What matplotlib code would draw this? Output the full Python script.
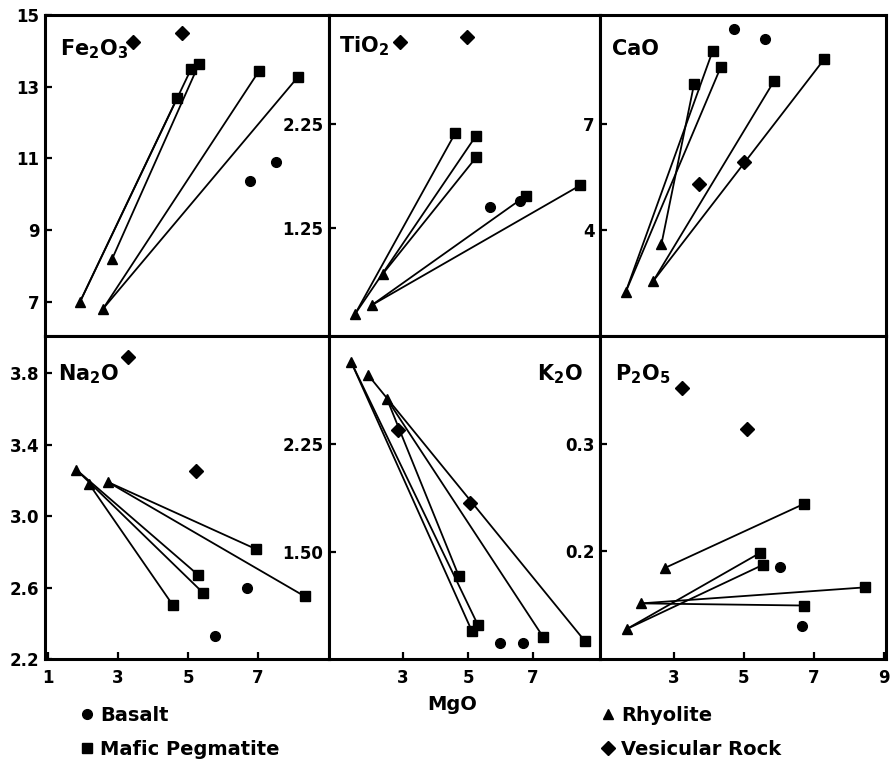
import matplotlib
matplotlib.use("Agg")
import matplotlib.pyplot as plt
from matplotlib.lines import Line2D

plt.rcParams["font.family"] = ["DejaVu Sans"]
plt.rcParams["mathtext.fontset"] = "custom"
plt.rcParams["mathtext.rm"] = "DejaVu Sans:bold"
plt.rcParams["mathtext.default"] = "rm"

# --------- DATA (MgO on x, oxide on y) ---------
# each oxide: basalt / rhyolite / pegmatite / vesicular points,
# ties = (rhyolite index, pegmatite index) pairs joined by a line

FE2O3_BASALT = [(6.77, 10.38), (7.51, 10.90)]
FE2O3_RHYOLITE = [(1.91, 7.00), (2.83, 8.20), (2.57, 6.81)]
FE2O3_PEGMATITE = [(4.69, 12.69), (5.09, 13.50), (5.31, 13.63), (7.03, 13.44), (8.14, 13.27)]
FE2O3_VESICULAR = [(3.43, 14.25), (4.83, 14.50)]
FE2O3_TIES = [(0, 0), (0, 1), (1, 2), (2, 3), (2, 4)]

TIO2_BASALT = [(5.68, 1.45), (6.60, 1.51)]
TIO2_RHYOLITE = [(1.52, 0.42), (2.05, 0.51), (2.38, 0.81)]
TIO2_PEGMATITE = [(4.60, 2.16), (5.25, 2.14), (5.25, 1.93), (6.78, 1.56), (8.45, 1.66)]
TIO2_VESICULAR = [(2.91, 3.04), (4.97, 3.09)]
TIO2_TIES = [(0, 0), (0, 1), (2, 2), (1, 3), (1, 4)]

CAO_BASALT = [(4.72, 9.69), (5.60, 9.40)]
CAO_RHYOLITE = [(1.63, 2.24), (2.42, 2.56), (2.65, 3.60)]
CAO_PEGMATITE = [(4.11, 9.07), (4.34, 8.61), (3.58, 8.13), (5.86, 8.22), (7.29, 8.84)]
CAO_VESICULAR = [(3.73, 5.30), (5.01, 5.92)]
CAO_TIES = [(0, 0), (0, 1), (2, 2), (1, 3), (1, 4)]

NA2O_BASALT = [(6.69, 2.60), (5.77, 2.33)]
NA2O_RHYOLITE = [(1.80, 3.26), (2.17, 3.18), (2.71, 3.19)]
NA2O_PEGMATITE = [(4.57, 2.50), (5.29, 2.67), (5.43, 2.57), (6.94, 2.815), (8.34, 2.55)]
NA2O_VESICULAR = [(3.29, 3.89), (5.23, 3.25)]
NA2O_TIES = [(1, 0), (0, 1), (0, 2), (2, 3), (2, 4)]

K2O_BASALT = [(5.98, 0.87), (6.69, 0.87)]
K2O_RHYOLITE = [(1.40, 2.82), (1.92, 2.73), (2.51, 2.56)]
K2O_PEGMATITE = [(4.72, 1.33), (5.12, 0.95), (5.31, 0.99), (7.31, 0.91), (8.60, 0.88)]
K2O_VESICULAR = [(2.85, 2.35), (5.06, 1.84)]
K2O_TIES = [(2, 0), (0, 1), (0, 2), (2, 3), (1, 4)]

P2O5_BASALT = [(6.04, 0.185), (6.65, 0.130)]
P2O5_RHYOLITE = [(1.66, 0.127), (2.07, 0.151), (2.74, 0.184)]
P2O5_PEGMATITE = [(5.45, 0.198), (5.54, 0.187), (6.71, 0.244), (6.71, 0.149), (8.46, 0.166)]
P2O5_VESICULAR = [(3.23, 0.352), (5.10, 0.314)]
P2O5_TIES = [(0, 0), (0, 1), (2, 2), (1, 3), (1, 4)]

# --------- LAYOUT (pixels of the 893x767 canvas) ---------
W, H = 893, 767
COL_EDGES = [45, 329, 600, 886]
ROW_EDGES = [15, 336, 659]
XLIMS = [(0.91, 9.03), (0.72, 9.06), (0.90, 9.05)]

PANELS = [
    # (row, col, label, basalt, rhyolite, pegmatite, vesicular, ties, ylim, yticks, yticklabels, label pos)
    (0, 0, "Fe$_2$O$_3$", FE2O3_BASALT, FE2O3_RHYOLITE, FE2O3_PEGMATITE, FE2O3_VESICULAR, FE2O3_TIES,
     (6.05, 15.0), [7, 9, 11, 13, 15], ["7", "9", "11", "13", "15"], (0.053, 0.875, "left")),
    (0, 1, "TiO$_2$", TIO2_BASALT, TIO2_RHYOLITE, TIO2_PEGMATITE, TIO2_VESICULAR, TIO2_TIES,
     (0.21, 3.30), [1.25, 2.25], ["1.25", "2.25"], (0.037, 0.882, "left")),
    (0, 2, "CaO", CAO_BASALT, CAO_RHYOLITE, CAO_PEGMATITE, CAO_VESICULAR, CAO_TIES,
     (1.0, 10.09), [4, 7], ["4", "7"], (0.042, 0.875, "left")),
    (1, 0, "Na$_2$O", NA2O_BASALT, NA2O_RHYOLITE, NA2O_PEGMATITE, NA2O_VESICULAR, NA2O_TIES,
     (2.2, 4.007), [2.2, 2.6, 3.0, 3.4, 3.8], ["2.2", "2.6", "3.0", "3.4", "3.8"], (0.046, 0.864, "left")),
    (1, 1, "K$_2$O", K2O_BASALT, K2O_RHYOLITE, K2O_PEGMATITE, K2O_VESICULAR, K2O_TIES,
     (0.757, 3.0), [1.5, 2.25], ["1.50", "2.25"], (0.937, 0.864, "right")),
    (1, 2, "P$_2$O$_5$", P2O5_BASALT, P2O5_RHYOLITE, P2O5_PEGMATITE, P2O5_VESICULAR, P2O5_TIES,
     (0.099, 0.401), [0.2, 0.3], ["0.2", "0.3"], (0.052, 0.864, "left")),
]
XTICKS = [[1, 3, 5, 7], [3, 5, 7], [3, 5, 7, 9]]

MS = dict(basalt=7, rhyolite=7.5, pegmatite=7, vesicular=7)


def xs(pts):
    return [p[0] for p in pts]


def ys(pts):
    return [p[1] for p in pts]


def draw_panel(ax, basalt, rhy, peg, ves, ties):
    for ri, pi in ties:
        ax.plot([rhy[ri][0], peg[pi][0]], [rhy[ri][1], peg[pi][1]],
                color="black", lw=1.3, zorder=2, solid_capstyle="round")
    ax.plot(xs(basalt), ys(basalt), "o", color="black", ms=MS["basalt"], zorder=3)
    ax.plot(xs(rhy), ys(rhy), "^", color="black", ms=MS["rhyolite"], zorder=3)
    ax.plot(xs(peg), ys(peg), "s", color="black", ms=MS["pegmatite"], zorder=3)
    ax.plot(xs(ves), ys(ves), "D", color="black", ms=MS["vesicular"], zorder=3)


fig = plt.figure(figsize=(W / 100, H / 100), dpi=100)

for (row, col, label, bas, rhy, peg, ves, ties, ylim, yt, ytl, lpos) in PANELS:
    x0, x1 = COL_EDGES[col], COL_EDGES[col + 1]
    y0, y1 = ROW_EDGES[row], ROW_EDGES[row + 1]
    ax = fig.add_axes([x0 / W, 1 - y1 / H, (x1 - x0) / W, (y1 - y0) / H])
    draw_panel(ax, bas, rhy, peg, ves, ties)
    ax.set_xlim(*XLIMS[col])
    ax.set_ylim(*ylim)
    ax.set_yticks(yt)
    ax.set_yticklabels(ytl)
    if row == 1:
        ax.set_xticks(XTICKS[col])
        ax.set_xticklabels([str(t) for t in XTICKS[col]])
        ax.tick_params(axis="x", direction="in", length=5, width=1.6, pad=7,
                       labelsize=12)
    else:
        ax.set_xticks([])
    ax.tick_params(axis="y", direction="in", length=5, width=1.6, pad=4, labelsize=12)
    for lab in ax.get_xticklabels() + ax.get_yticklabels():
        lab.set_fontweight("bold")
    for sp in ax.spines.values():
        sp.set_linewidth(2.2)
    ax.text(lpos[0], lpos[1], label, transform=ax.transAxes, ha=lpos[2], va="baseline",
            fontsize=15, fontweight="bold")

fig.text(452 / W, 1 - 705 / H, "MgO", ha="center", va="center", fontsize=14, fontweight="bold")

def handle(marker, ms):
    return Line2D([], [], ls="none", marker=marker, color="black", ms=ms)

leg_kw = dict(loc="upper left", frameon=False, handlelength=0.8, handletextpad=0.3,
              labelspacing=0.75, borderpad=0, borderaxespad=0,
              prop=dict(size=14, weight="bold"), bbox_transform=fig.transFigure)
fig.legend([handle("o", 7), handle("s", 7)], ["Basalt", "Mafic Pegmatite"],
           bbox_to_anchor=(79 / W, 1 - 706 / H), **leg_kw)
fig.legend([handle("^", 7), handle("D", 7)], ["Rhyolite", "Vesicular Rock"],
           bbox_to_anchor=(600 / W, 1 - 706 / H), **leg_kw)

fig.savefig("out.png", dpi=100)
